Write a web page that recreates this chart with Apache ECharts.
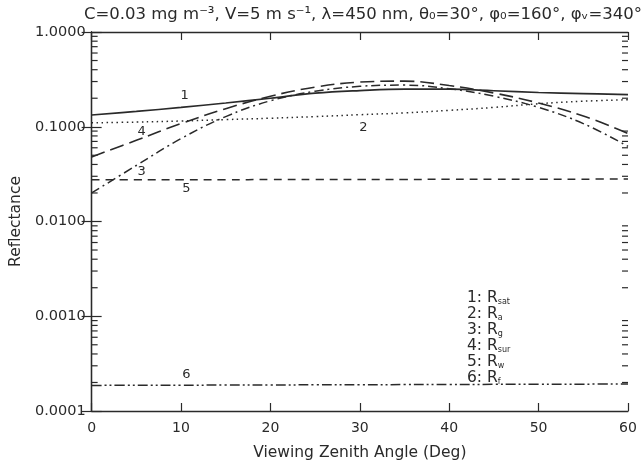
<!DOCTYPE html>
<html>
<head>
<meta charset="utf-8">
<script src="https://cdn.jsdelivr.net/npm/echarts@6/dist/echarts.min.js"></script>
<style>html,body{margin:0;padding:0;background:#fff;}#c{width:642px;height:466px;}</style>
</head>
<body>
<div id="c"></div>
<script>
// ---- data ----
const angles = [0, 5, 10, 15, 20, 25, 30, 35, 40, 45, 50, 55, 60];
const rSat  = [0.133, 0.145, 0.160, 0.178, 0.200, 0.226, 0.241, 0.250, 0.249, 0.240, 0.230, 0.224, 0.218];
const rA    = [0.110, 0.112, 0.115, 0.119, 0.123, 0.128, 0.134, 0.140, 0.149, 0.160, 0.175, 0.186, 0.193];
const rG    = [0.020, 0.039, 0.075, 0.128, 0.188, 0.237, 0.267, 0.275, 0.252, 0.210, 0.160, 0.108, 0.062];
const rSur  = [0.048, 0.072, 0.108, 0.155, 0.210, 0.262, 0.296, 0.303, 0.272, 0.227, 0.178, 0.130, 0.085];
const rW    = [0.0275, 0.0275, 0.0276, 0.0276, 0.0277, 0.0277, 0.0278, 0.0278, 0.0279, 0.0279, 0.0280, 0.0280, 0.0281];
const rF    = [0.000186, 0.000187, 0.000187, 0.000188, 0.000188, 0.000189, 0.000189, 0.000190, 0.000190, 0.000191, 0.000191, 0.000192, 0.000193];
const yTickValues = [0.0001, 0.001, 0.01, 0.1, 1];
const xTickValues = [0, 10, 20, 30, 40, 50, 60];
const curveNames = ['1', '2', '3', '4', '5', '6'];
const legendSubs = ['sat', 'a', 'g', 'sur', 'w', 'f'];

// ---- styles / layout ----
const INK = '#2a2a2a';
const FONT = 'DejaVu Sans';
const labelPos = [[10.4, 0.215], [30.4, 0.098], [5.6, 0.034], [5.6, 0.088], [10.6, 0.022], [10.6, 0.00024]];
const styles = [
  {type: 'solid', width: 1.7},
  {type: [1.5, 3.5], width: 1.5},
  {type: [9, 4, 2, 4], width: 1.5},
  {type: [14, 6], width: 1.6},
  {type: [8, 6], width: 1.5},
  {type: [10, 3, 2, 3, 2, 3], width: 1.5}
];
const seriesData = [rSat, rA, rG, rSur, rW, rF];

const minorVals = [];
for (let k = -4; k <= -1; k++) for (let m = 2; m <= 9; m++) minorVals.push([m * Math.pow(10, k)]);

const series = seriesData.map((arr, i) => ({
  type: 'line',
  data: angles.map((a, j) => [a, arr[j]]),
  smooth: 0.4,
  showSymbol: false,
  lineStyle: {color: INK, width: styles[i].width, type: styles[i].type},
  silent: true,
  z: 3,
  markPoint: {
    symbol: 'circle', symbolSize: 0, silent: true,
    label: {show: true, formatter: curveNames[i], color: INK, fontFamily: FONT, fontSize: 13, position: 'inside'},
    data: [{coord: labelPos[i]}]
  }
}));

series.push({
  type: 'custom',
  data: minorVals,
  silent: true,
  z: 4,
  renderItem: function (params, api) {
    const v = api.value(0);
    const pL = api.coord([0, v]);
    const pR = api.coord([60, v]);
    return {
      type: 'group',
      children: [
        {type: 'line', shape: {x1: pL[0], y1: pL[1], x2: pL[0] + 6, y2: pL[1]}, style: {stroke: INK, lineWidth: 1.2}},
        {type: 'line', shape: {x1: pR[0], y1: pR[1], x2: pR[0] - 6, y2: pR[1]}, style: {stroke: INK, lineWidth: 1.2}}
      ]
    };
  },
  encode: {y: 0}
});

const legendLines = curveNames.map((n, i) => n + ': R{s|' + legendSubs[i] + '}').join('\n');

const chart = echarts.init(document.getElementById('c'));
chart.setOption({
  animation: false,
  backgroundColor: '#fff',
  title: {
    text: 'C=0.03 mg m⁻³, V=5 m s⁻¹, λ=450 nm, θ₀=30°, φ₀=160°, φᵥ=340°',
    left: 358, top: 1, textAlign: 'center',
    textStyle: {fontFamily: FONT, fontSize: 16.5, fontWeight: 'normal', color: INK}
  },
  grid: {left: 88, right: 14, top: 32, bottom: 50, containLabel: false},
  xAxis: [{
    type: 'value', min: 0, max: 60, interval: 10,
    name: 'Viewing Zenith Angle (Deg)', nameLocation: 'middle', nameGap: 34,
    nameTextStyle: {fontFamily: FONT, fontSize: 15.5, color: INK},
    axisLine: {lineStyle: {color: INK, width: 1.3}},
    axisTick: {inside: true, length: 8, lineStyle: {color: INK, width: 1.2}},
    axisLabel: {fontFamily: FONT, fontSize: 14, color: INK, margin: 10,
      formatter: v => xTickValues.indexOf(v) >= 0 ? String(v) : ''},
    splitLine: {show: false}
  }, {
    type: 'value', min: 0, max: 60, interval: 10, position: 'top',
    axisLine: {lineStyle: {color: INK, width: 1.3}},
    axisTick: {inside: true, length: 8, lineStyle: {color: INK, width: 1.2}},
    axisLabel: {show: false}, splitLine: {show: false}
  }],
  yAxis: [{
    type: 'log', logBase: 10, min: 0.0001, max: 1,
    name: 'Reflectance', nameLocation: 'middle', nameGap: 64, nameRotate: 90,
    nameTextStyle: {fontFamily: FONT, fontSize: 15.5, color: INK},
    axisLine: {show: true, lineStyle: {color: INK, width: 1.3}},
    axisTick: {inside: true, length: 10, lineStyle: {color: INK, width: 1.2}},
    axisLabel: {fontFamily: FONT, fontSize: 14.5, color: INK, margin: 6,
      formatter: v => yTickValues.some(t => Math.abs(t - v) / t < 1e-6) ? v.toFixed(4) : ''},
    splitLine: {show: false}
  }, {
    type: 'log', logBase: 10, min: 0.0001, max: 1, position: 'right',
    axisLine: {show: true, lineStyle: {color: INK, width: 1.3}},
    axisTick: {inside: true, length: 10, lineStyle: {color: INK, width: 1.2}},
    axisLabel: {show: false}, splitLine: {show: false}
  }],
  graphic: [{
    type: 'text', left: 467, top: 290,
    style: {
      text: legendLines,
      fontFamily: FONT, fontSize: 15.5, fill: INK, lineHeight: 16,
      rich: {s: {fontSize: 8, fontFamily: FONT, fill: INK, verticalAlign: 'bottom', padding: [6, 0, 0, 0]}}
    }
  }],
  series: series
});
</script>
</body>
</html>
